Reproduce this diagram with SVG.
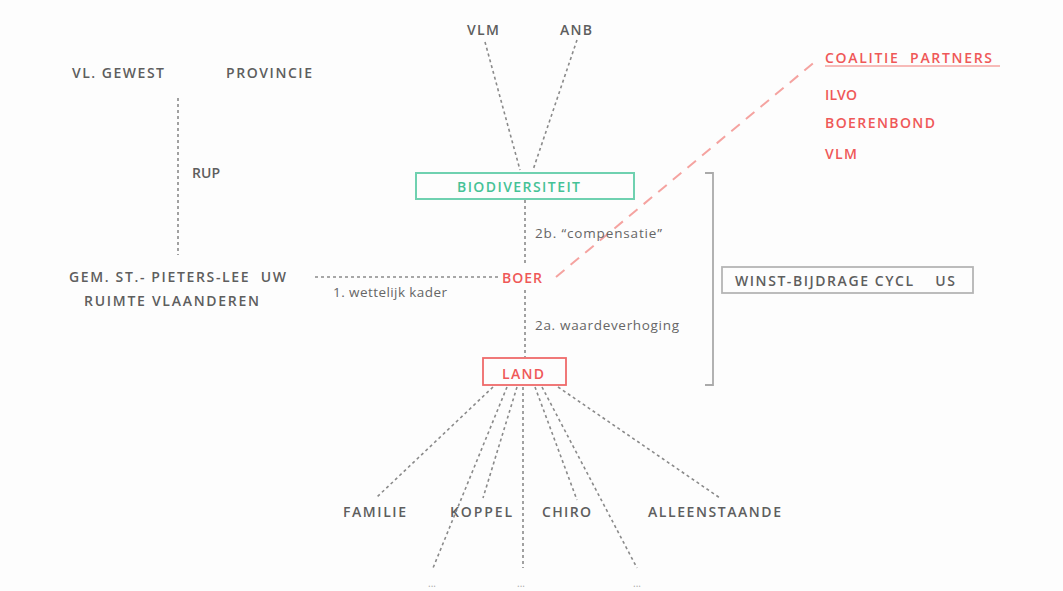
<svg xmlns="http://www.w3.org/2000/svg" width="1063" height="591" viewBox="0 0 1063 591">
<style>
text{font-family:"Open Sans","Liberation Sans",sans-serif;font-size:14px;fill:#5e5e5e;white-space:pre}
.cap{letter-spacing:1px;font-weight:600}
.red{fill:#ef5858}
.green{fill:#45c296}
.lbl{font-size:13.5px;fill:#666}
.dot{fill:none;stroke:#8a8a8a;stroke-width:1.6;stroke-dasharray:3 3}
.rdash{fill:none;stroke:#f5a3a0;stroke-width:2;stroke-dasharray:11 8}
.more{font-size:10px;fill:#aaaaaa}
</style>
<rect width="1063" height="591" fill="#fdfdfd"/>
<g id="connectors">
<line class="dot" x1="485" y1="42" x2="520" y2="170"/>
<line class="dot" x1="577" y1="40" x2="533" y2="170"/>
<line class="dot" x1="525" y1="200" x2="525" y2="263"/>
<line class="dot" x1="525" y1="290" x2="525" y2="357"/>
<line class="dot" x1="315" y1="277" x2="498" y2="277"/>
<line class="dot" x1="178" y1="98" x2="178" y2="255"/>
<line class="dot" x1="493" y1="387" x2="377" y2="497"/>
<line class="dot" x1="507" y1="387" x2="433" y2="568"/>
<line class="dot" x1="517" y1="387" x2="483" y2="498"/>
<line class="dot" x1="523" y1="387" x2="523" y2="568"/>
<line class="dot" x1="535" y1="387" x2="577" y2="500"/>
<line class="dot" x1="542" y1="387" x2="637" y2="568"/>
<line class="dot" x1="558" y1="387" x2="720" y2="498"/>
<line class="rdash" x1="556" y1="277" x2="817" y2="60"/>
<line x1="825" y1="66" x2="1000" y2="66" stroke="#f5a3a0" stroke-width="1.5"/>
<path d="M705 173 H713 V385 H705" fill="none" stroke="#aaaaaa" stroke-width="1.8"/>
</g>
<g id="vl-gewest"><text class="cap" x="72" y="78" textLength="93">VL. GEWEST</text></g>
<g id="provincie"><text class="cap" x="226" y="78" textLength="87">PROVINCIE</text></g>
<g id="rup"><text class="cap" x="192" y="178" textLength="29">RUP</text></g>
<g id="gemeente">
<text class="cap" x="69" y="282" textLength="218">GEM. ST.- PIETERS-LEE  UW</text>
<text class="cap" x="84" y="306" textLength="176">RUIMTE VLAANDEREN</text>
</g>
<g id="vlm-top"><text class="cap" x="467" y="35" textLength="33">VLM</text></g>
<g id="anb"><text class="cap" x="560" y="35" textLength="33">ANB</text></g>
<g id="biodiversiteit">
<rect x="416" y="173" width="218" height="26" fill="none" stroke="#6fd1b0" stroke-width="2"/>
<text class="cap green" x="457" y="192" textLength="124">BIODIVERSITEIT</text>
</g>
<g id="boer"><text class="cap red" x="502" y="283" textLength="41">BOER</text></g>
<g id="land">
<rect x="483" y="358" width="83" height="27" fill="none" stroke="#ef6a6a" stroke-width="1.8"/>
<text class="cap red" x="502" y="379" textLength="43">LAND</text>
</g>
<g id="label-1"><text class="lbl" x="333" y="297" textLength="114">1. wettelijk kader</text></g>
<g id="label-2b"><text class="lbl" x="535" y="238" textLength="127">2b. “compensatie”</text></g>
<g id="label-2a"><text class="lbl" x="535" y="330" textLength="144">2a. waardeverhoging</text></g>
<g id="coalitie">
<text class="cap red" x="825" y="63" textLength="168">COALITIE  PARTNERS</text>
<text class="cap red" x="825" y="100" textLength="33">ILVO</text>
<text class="cap red" x="825" y="128" textLength="111">BOERENBOND</text>
<text class="cap red" x="825" y="159" textLength="33">VLM</text>
</g>
<g id="winst">
<rect x="722" y="267" width="251" height="26" fill="none" stroke="#b5b5b5" stroke-width="1.8"/>
<text class="cap" x="735" y="286" textLength="221">WINST-BIJDRAGE CYCL    US</text>
</g>
<g id="familie"><text class="cap" x="343" y="517" textLength="64">FAMILIE</text></g>
<g id="koppel"><text class="cap" x="450" y="517" textLength="63">KOPPEL</text></g>
<g id="chiro"><text class="cap" x="542" y="517" textLength="50">CHIRO</text></g>
<g id="alleenstaande"><text class="cap" x="648" y="517" textLength="134">ALLEENSTAANDE</text></g>
<g id="more">
<text class="more" x="432" y="587" text-anchor="middle">...</text>
<text class="more" x="521" y="587" text-anchor="middle">...</text>
<text class="more" x="637" y="587" text-anchor="middle">...</text>
</g>
</svg>
